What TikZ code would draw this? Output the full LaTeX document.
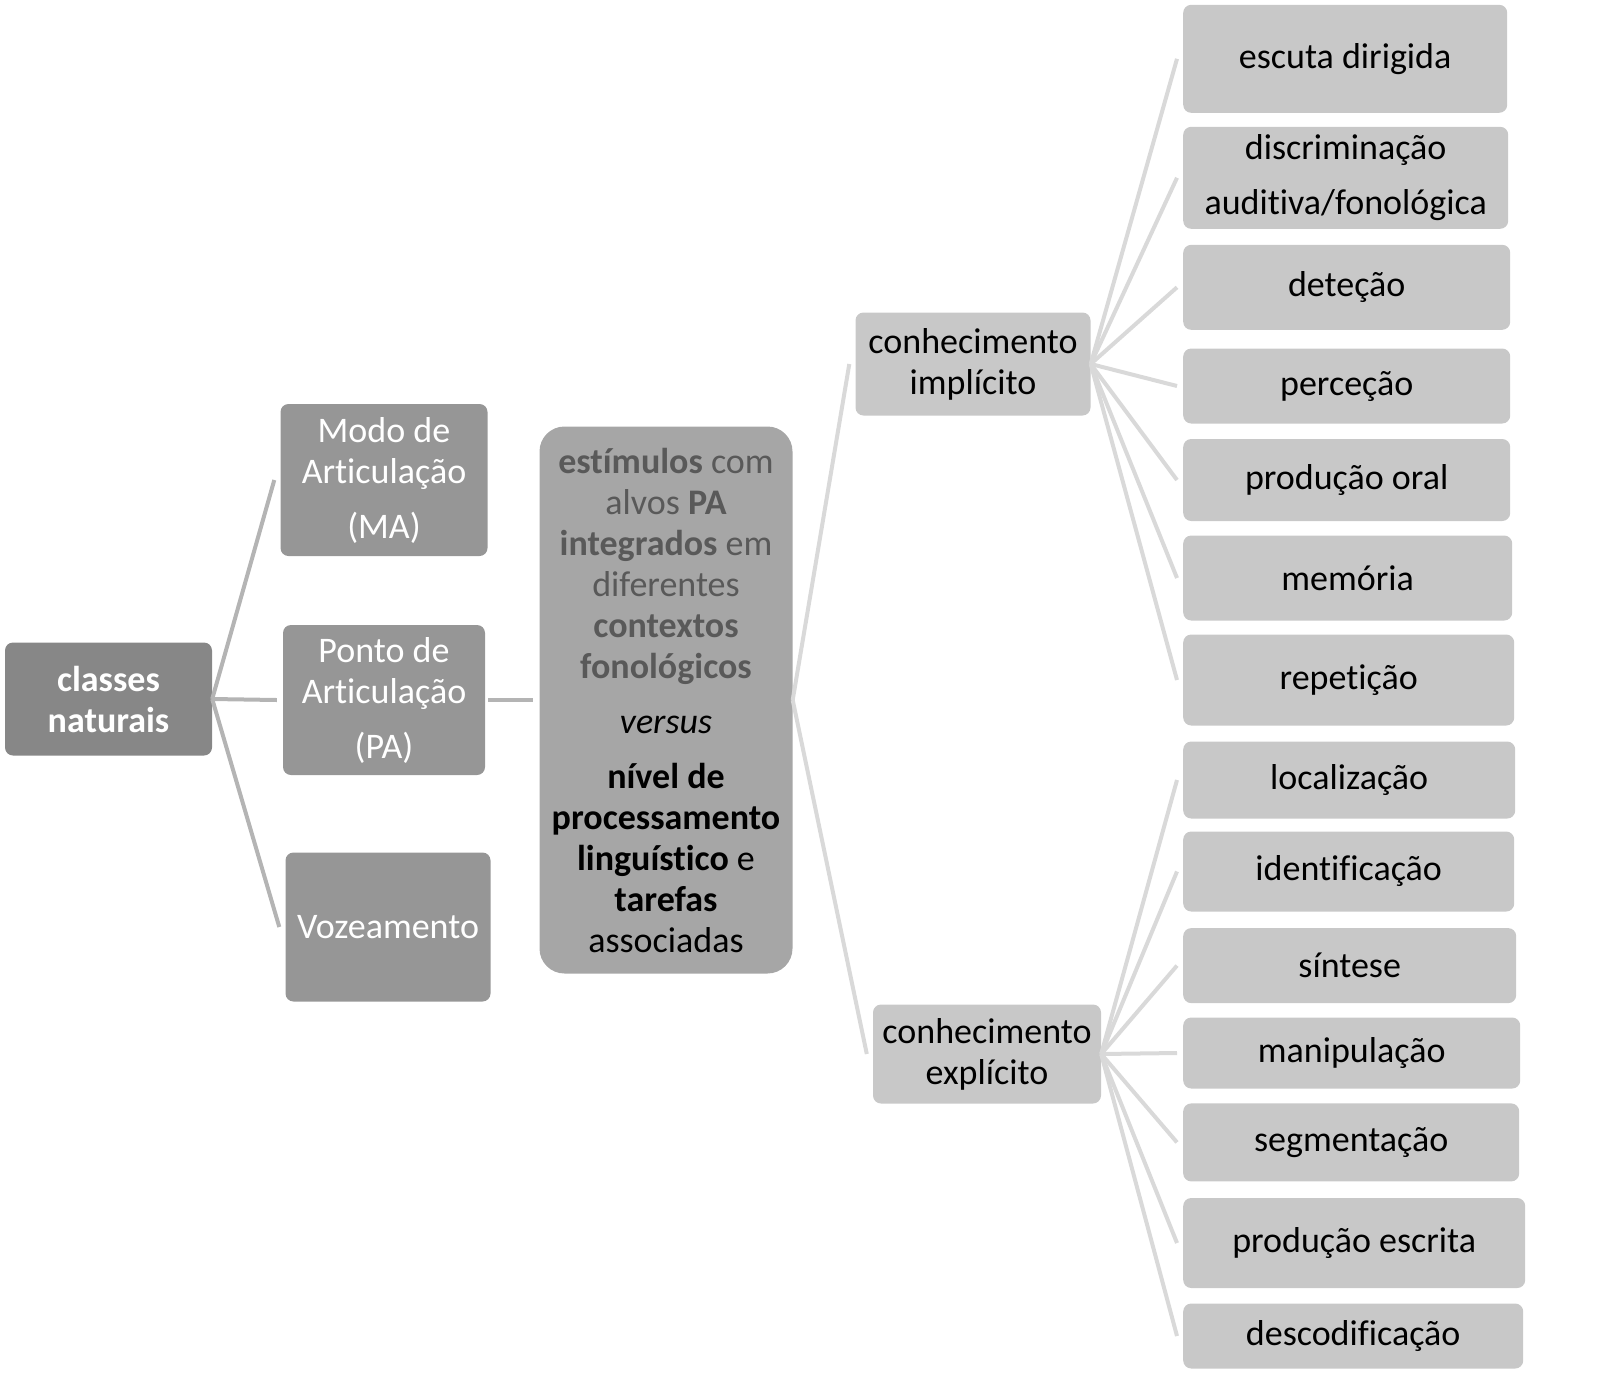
\documentclass[tikz,border=0pt]{standalone}
\usepackage{fontspec}
\setmainfont{Carlito}[Ligatures=NoCommon]
\usetikzlibrary{positioning}

\definecolor{boxA}{HTML}{878787}
\definecolor{boxB}{HTML}{969696}
\definecolor{boxC}{HTML}{A6A6A6}
\definecolor{boxD}{HTML}{C8C8C8}
\definecolor{lineA}{HTML}{B4B4B4}
\definecolor{lineB}{HTML}{D9D9D9}
\definecolor{txtgray}{HTML}{595959}

\tikzset{
  box/.style={rectangle, rounded corners=8pt, inner sep=0pt, align=center,
    font=\fontsize{36}{41}\selectfont},
  leftbox/.style={box, fill=boxB, text=white},
  taskbox/.style={box, fill=boxD, text=black, anchor=west},
  linkA/.style={draw=lineA, line width=4pt},
  linkB/.style={draw=lineB, line width=4pt}
}

\begin{document}
\begin{tikzpicture}[x=1pt,y=-1pt]
\useasboundingbox (0,0) rectangle (1599,1377);
\node[box, fill=boxA, text=white, minimum width=207pt, minimum height=113pt, font=\fontsize{36}{41}\selectfont\bfseries]
  (classes) at (108.5,699) {classes\\naturais};
\node[leftbox, minimum width=207pt, minimum height=152pt] (ma) at (384,480) {Modo de\\Articulação\\[14pt](MA)};
\node[leftbox, minimum width=202pt, minimum height=150pt] (pa) at (384,700) {Ponto de\\Articulação\\[14pt](PA)};
\node[leftbox, minimum width=205pt, minimum height=149pt] (voz) at (388,927) {Vozeamento};
\node[box, fill=boxC, rounded corners=25pt, minimum width=253pt, minimum height=547pt] (stim) at (666,700)
  {\color{txtgray}\textbf{estímulos} com\\\color{txtgray}alvos \textbf{PA}\\\color{txtgray}\textbf{integrados} em\\
   \color{txtgray}diferentes\\\color{txtgray}\textbf{contextos}\\\color{txtgray}\textbf{fonológicos}\\[14pt]
   \textit{versus}\\[14pt]
   \textbf{nível de}\\\textbf{processamento}\\\textbf{linguístico} e\\\textbf{tarefas}\\associadas};
\node[box, fill=boxD, minimum width=235pt, minimum height=103pt] (impl) at (973,364) {conhecimento\\implícito};
\node[box, fill=boxD, minimum width=228pt, minimum height=99pt] (expl) at (987,1054) {conhecimento\\explícito};

% tarefas do conhecimento implícito
\node[taskbox, minimum width=324pt, minimum height=108pt] (escuta) at (1183,58.8) {escuta dirigida};
\node[taskbox, minimum width=325pt, minimum height=102pt] (discr) at (1183,177.8) {discriminação\\[14pt]auditiva/fonológica};
\node[taskbox, minimum width=327pt, minimum height=85pt] (detec) at (1183,287.3) {deteção};
\node[taskbox, minimum width=327pt, minimum height=75pt] (percec) at (1183,386) {perceção};
\node[taskbox, minimum width=327pt, minimum height=82pt] (prodoral) at (1183,480) {produção oral};
\node[taskbox, minimum width=329pt, minimum height=85pt] (memoria) at (1183,578) {memória};
\node[taskbox, minimum width=331pt, minimum height=91pt] (repet) at (1183,680) {repetição};
% tarefas do conhecimento explícito
\node[taskbox, minimum width=332pt, minimum height=77pt] (local) at (1183,780) {localização};
\node[taskbox, minimum width=331pt, minimum height=80pt] (ident) at (1183,871.5) {identificação};
\node[taskbox, minimum width=333pt, minimum height=75pt] (sintese) at (1183,965.6) {síntese};
\node[taskbox, minimum width=337pt, minimum height=71pt] (manip) at (1183,1053) {manipulação};
\node[taskbox, minimum width=336pt, minimum height=78pt] (segm) at (1183,1142.4) {segmentação};
\node[taskbox, minimum width=342pt, minimum height=90pt] (prodesc) at (1183,1243) {produção escrita};
\node[taskbox, minimum width=340pt, minimum height=65pt] (descod) at (1183,1336) {descodificação};

% ligações
\draw[linkA] (classes.east) -- ([xshift=-6pt]ma.west);
\draw[linkA] (classes.east) -- ([xshift=-6pt]pa.west);
\draw[linkA] (classes.east) -- ([xshift=-6pt]voz.west);
\draw[linkA] ([xshift=3pt]pa.east) -- ([xshift=-6pt]stim.west);
\draw[linkB] (stim.east) -- ([xshift=-6pt]impl.west);
\draw[linkB] (stim.east) -- ([xshift=-6pt]expl.west);
\foreach \t in {escuta,discr,detec,percec,prodoral,memoria,repet}
  \draw[linkB] (impl.east) -- ([xshift=-6pt]\t.west);
\foreach \t in {local,ident,sintese,manip,segm,prodesc,descod}
  \draw[linkB] (expl.east) -- ([xshift=-6pt]\t.west);
\end{tikzpicture}
\end{document}
